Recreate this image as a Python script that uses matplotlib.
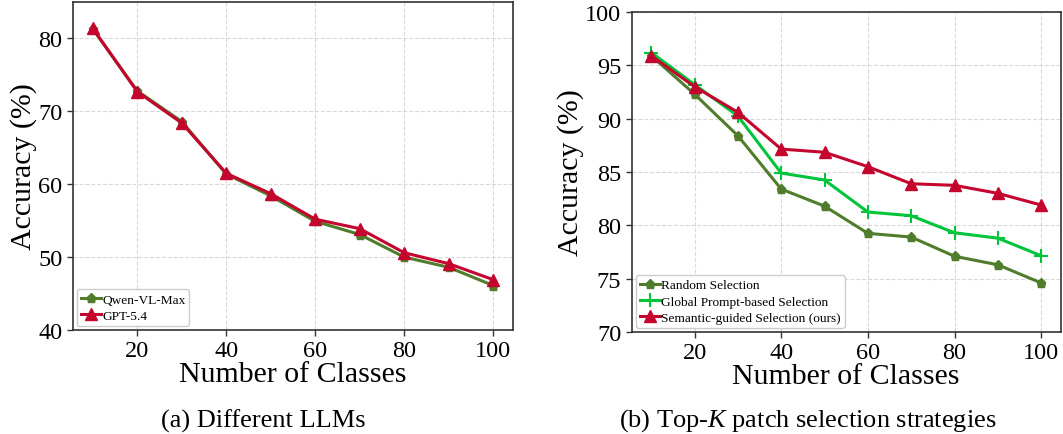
import matplotlib
matplotlib.use("Agg")
import matplotlib.pyplot as plt

plt.rcParams['font.family'] = ['Liberation Serif', 'DejaVu Serif']
plt.rcParams['mathtext.fontset'] = 'custom'
plt.rcParams['mathtext.it'] = 'Liberation Serif:italic'
plt.rcParams['mathtext.rm'] = 'Liberation Serif'

classes = [10, 20, 30, 40, 50, 60, 70, 80, 90, 100]

# (a) Different LLMs
qwen = [81.3, 72.8, 68.6, 61.4, 58.4, 54.9, 53.1, 50.0, 48.6, 46.1]
gpt = [81.4, 72.7, 68.4, 61.5, 58.7, 55.2, 53.9, 50.6, 49.1, 46.9]

# (b) Top-K patch selection strategies
random_sel = [95.9, 92.3, 88.4, 83.4, 81.8, 79.25, 78.9, 77.1, 76.3, 74.6]
global_sel = [96.2, 93.2, 90.25, 84.9, 84.25, 81.25, 80.9, 79.3, 78.8, 77.15]
semantic_sel = [95.9, 93.0, 90.6, 87.15, 86.85, 85.5, 83.9, 83.75, 83.0, 81.9]

RED = '#C4052E'
DARK_GREEN = '#4F7D2C'
BRIGHT_GREEN = '#00C43A'

W, H = 1063, 435
fig = plt.figure(figsize=(W / 100, H / 100), dpi=100)

ax1 = fig.add_axes([72.7 / W, 1 - 331 / H, (513.3 - 72.7) / W, (331 - 3) / H])
ax2 = fig.add_axes([631.7 / W, 1 - 333 / H, (1060.7 - 631.7) / W, (333 - 13) / H])

def style(ax):
    ax.grid(True, linestyle='--', color='#d0d0d0', linewidth=0.8, alpha=0.8)
    ax.set_axisbelow(True)
    for s in ax.spines.values():
        s.set_color('#333333')
        s.set_linewidth(1.2)
    ax.tick_params(labelsize=17.5, length=4, width=1, color='#333333')
    ax.set_xlabel('Number of Classes', fontsize=21.5, labelpad=0)
    ax.set_ylabel('Accuracy (%)', fontsize=21.5, labelpad=1)
    ax.set_xticks([20, 40, 60, 80, 100])

legend_kw = dict(loc='lower left', fontsize=9.6, handlelength=1.5, handletextpad=0.1,
                 borderpad=0.3, labelspacing=0.3, borderaxespad=0.3, fancybox=True,
                 edgecolor='#cccccc', framealpha=1.0)

ax1.plot(classes, qwen, color=DARK_GREEN, marker='p', markersize=6.5, linewidth=2.2, label='Qwen-VL-Max')
ax1.plot(classes, gpt, color=RED, marker='^', markersize=9, linewidth=2.2, label='GPT-5.4')
ax1.set_ylim(40, 85)
ax1.set_yticks([40, 50, 60, 70, 80])
style(ax1)
ax1.legend(**legend_kw)

ax2.plot(classes, random_sel, color=DARK_GREEN, marker='p', markersize=6.5, linewidth=2.2, label='Random Selection')
ax2.plot(classes, global_sel, color=BRIGHT_GREEN, marker='+', markersize=10, markeredgewidth=1.5, linewidth=2.2, label='Global Prompt-based Selection')
ax2.plot(classes, semantic_sel, color=RED, marker='^', markersize=9, linewidth=2.2, label='Semantic-guided Selection (ours)')
ax2.set_ylim(70, 100)
ax2.set_yticks([70, 75, 80, 85, 90, 95, 100])
style(ax2)
ax2.legend(**legend_kw)

fig.text(263 / W, 1 - 421 / H, '(a) Different LLMs', ha='center', va='center', fontsize=19)
fig.text(808 / W, 1 - 421 / H, '(b) Top-$K$ patch selection strategies', ha='center', va='center', fontsize=19)

fig.savefig('out.png', dpi=100)
